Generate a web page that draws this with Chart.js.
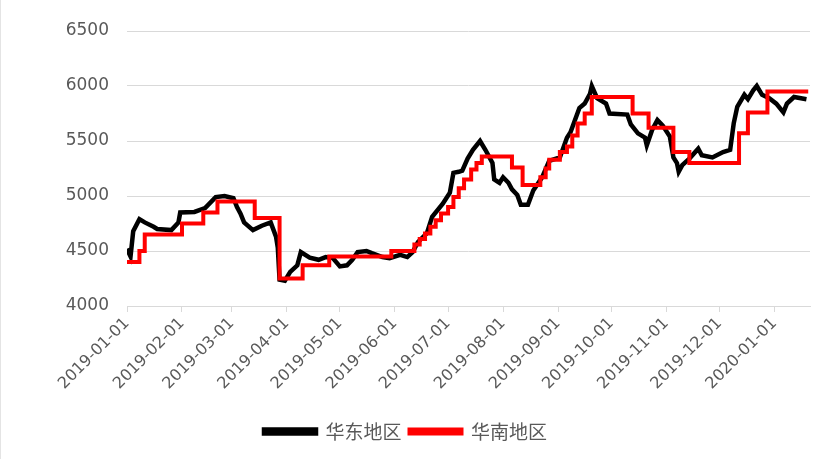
<!DOCTYPE html>
<html>
<head>
<meta charset="utf-8">
<script src="https://cdn.jsdelivr.net/npm/chart.js@4/dist/chart.umd.min.js"></script>
<style>
  html, body { margin: 0; padding: 0; background: #fff; }
  #wrap { position: relative; width: 834px; height: 459px; box-sizing: border-box; border-left: 1px solid #e4e4e4; }
  canvas { display: block; }
</style>
</head>
<body>
<div id="wrap"><canvas id="c" width="833" height="459"></canvas></div>
<script>
// ---- data (days since 2019-01-01) ----
const seriesNames = ['华东地区', '华南地区'];
const monthLabels = ['2019-01-01','2019-02-01','2019-03-01','2019-04-01','2019-05-01','2019-06-01',
  '2019-07-01','2019-08-01','2019-09-01','2019-10-01','2019-11-01','2019-12-01','2020-01-01'];
const eastDays = [0,2,3.5,7,10,15,17,25,29,30,38,44,50,55,60,62,64,66,71,76,81,84,85,86,89,92,96,98,103,108,
  112,116,120,124,127,130,135,138,144,148,154,158,161,164,169,172,178,182,184,187,189,192,195,199,202,206,207,
  210,212,215,217,220,222,226,229,234,238,244,248,250,255,258,261,262,265,270,272,282,284,288,292,293,296,299,
  302,306,308,310,311,313,317,322,324,330,336,340,342,344,348,350,353,355,358,362,366,370,372,376,383];
const eastPrice = [4520,4450,4680,4790,4760,4720,4700,4690,4760,4850,4855,4890,4990,5000,4980,4900,4840,4760,4690,
  4730,4760,4630,4530,4240,4230,4310,4370,4490,4440,4420,4445,4435,4360,4370,4420,4490,4500,4480,4445,4435,4465,
  4445,4490,4580,4660,4810,4930,5030,5210,5220,5230,5340,5420,5500,5420,5300,5150,5120,5170,5120,5060,5010,4920,
  4920,5050,5170,5320,5350,5530,5580,5800,5840,5930,6000,5890,5840,5750,5740,5650,5570,5530,5460,5600,5690,5640,
  5540,5350,5300,5220,5280,5340,5430,5370,5350,5400,5420,5660,5810,5920,5880,5960,6000,5920,5890,5840,5760,5840,
  5900,5880];
const southDays = [0,7,10,31,43,51,72,86,99,114,149,162,165,168,171,174,177,181,184,187,190,194,197,200,217,223,
  233,236,238,244,248,251,254,258,262,285,294,308,317,345,350,361,384];
const southPrice = [4400,4500,4650,4750,4850,4950,4800,4250,4370,4450,4500,4560,4610,4660,4720,4780,4840,4900,4990,
  5070,5150,5240,5300,5360,5260,5100,5170,5250,5330,5400,5450,5550,5660,5750,5900,5750,5620,5400,5300,5570,5760,
  5950,5950];

const DAY0 = Date.UTC(2019, 0, 1);
const monthDays = monthLabels.map(s => (Date.parse(s + 'T00:00:00Z') - DAY0) / 864e5);
const toPts = (d, v) => d.map((x, i) => ({ x, y: v[i] }));

const FONT = "'DejaVu Sans', 'Noto Sans CJK SC', sans-serif";
const CJK = "'Noto Sans CJK SC', sans-serif";
const GRID = '#d9d9d9';
const TXT = '#595959';

new Chart(document.getElementById('c'), {
  type: 'line',
  data: {
    datasets: [
      { label: seriesNames[0], data: toPts(eastDays, eastPrice), borderColor: '#000000', backgroundColor: '#000000',
        borderWidth: 4.5, pointRadius: 0, tension: 0, order: 1 },
      { label: seriesNames[1], data: toPts(southDays, southPrice), borderColor: '#ff0000', backgroundColor: '#ff0000',
        borderWidth: 4, pointRadius: 0, stepped: true, order: 0 }
    ]
  },
  options: {
    responsive: false,
    animation: false,
    layout: { padding: { top: 31, right: 24, bottom: 8, left: 0 } },
    plugins: {
      tooltip: { enabled: false },
      legend: {
        position: 'bottom',
        labels: {
          sort: (a, b) => a.datasetIndex - b.datasetIndex,
          boxWidth: 52, boxHeight: 4, padding: 8,
          color: TXT, font: { family: CJK, size: 19 }
        }
      }
    },
    scales: {
      x: {
        type: 'linear', min: 0, max: 385,
        afterBuildTicks: (s) => { s.ticks = monthDays.map(v => ({ value: v })); },
        afterFit: (s) => { s.height = 108; },
        ticks: {
          autoSkip: false, maxRotation: 45, minRotation: 45, padding: 2,
          color: TXT, font: { family: FONT, size: 16 },
          callback: (v, i) => monthLabels[i]
        },
        grid: { drawOnChartArea: false, drawTicks: true, tickLength: 6, color: GRID },
        border: { display: true, color: GRID }
      },
      y: {
        min: 4000, max: 6500,
        afterFit: (s) => { s.width = 126; },
        ticks: { stepSize: 500, padding: 18, color: TXT, font: { family: FONT, size: 17 },
          callback: (v) => String(v) },
        grid: { color: GRID, drawTicks: false },
        border: { display: false }
      }
    }
  }
});
</script>
</body>
</html>
